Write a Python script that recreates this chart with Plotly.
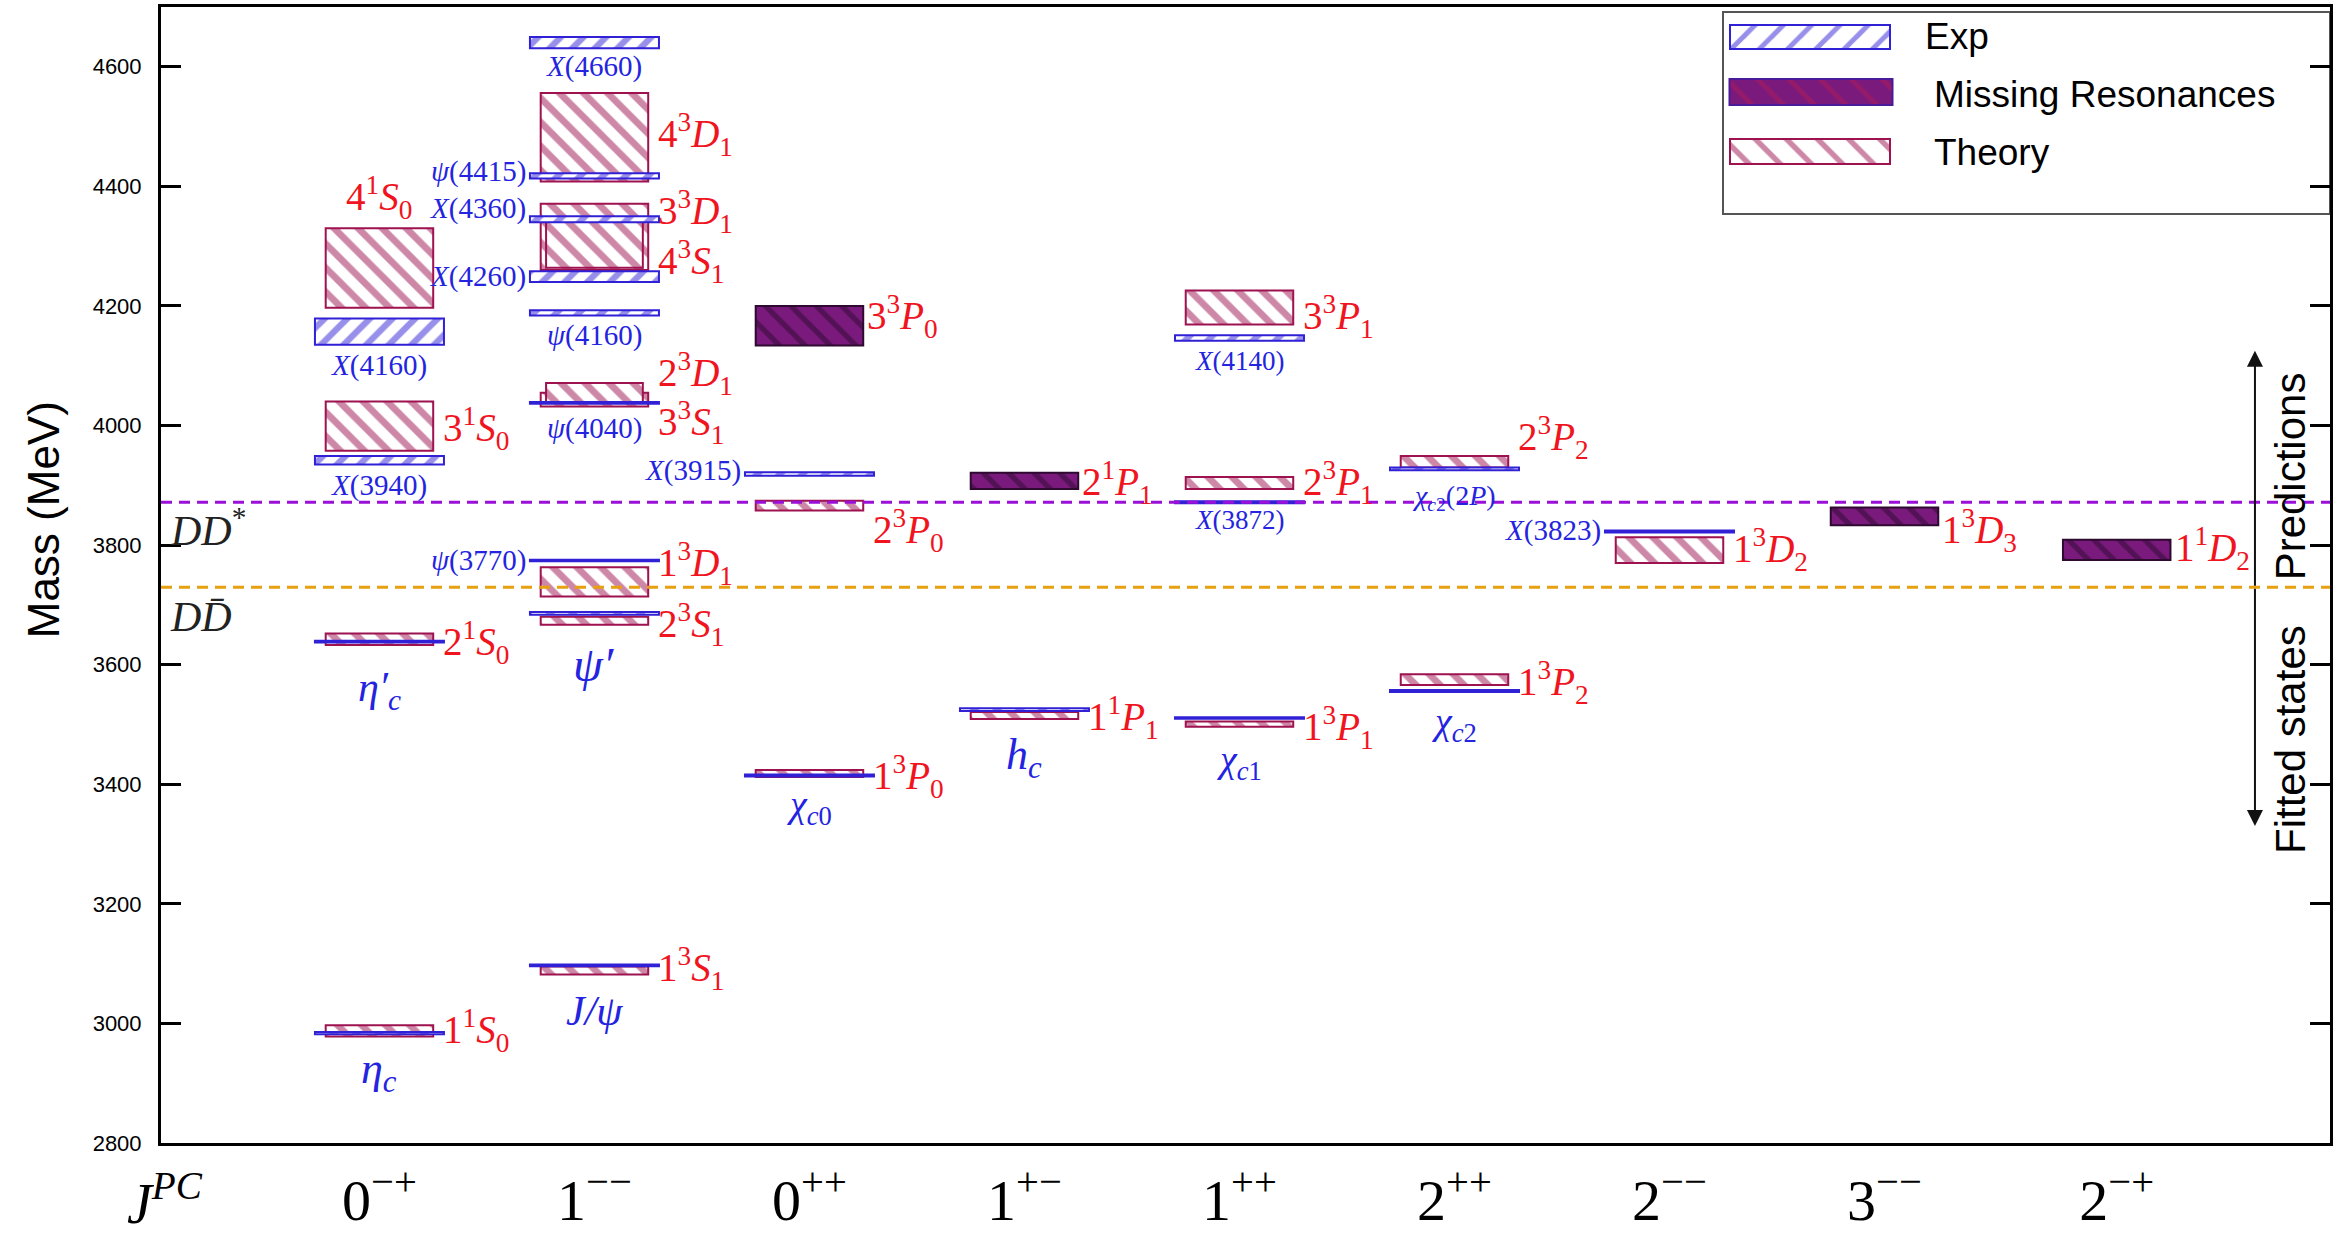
import plotly.graph_objects as go

# ---------------- data ----------------
CATEGORIES = ["0<sup>−+</sup>", "1<sup>−−</sup>", "0<sup>++</sup>", "1<sup>+−</sup>", "1<sup>++</sup>",
              "2<sup>++</sup>", "2<sup>−−</sup>", "3<sup>−−</sup>", "2<sup>−+</sup>"]
COLUMN_X = [1, 2, 3, 4, 5, 6, 7, 8, 9.08]

# theory (quark model) states: column index, lower / upper mass (MeV), spectroscopic code n,2S+1,L,J
THEORY_COL = [0, 0, 0, 0, 1, 1, 1, 1, 1, 1, 1, 1, 2, 2, 3, 4, 4, 4, 5, 5, 6]
THEORY_LOW = [2978, 3633, 3958, 4197, 3082, 3667, 3714, 4032, 4039, 4260, 4264, 4408,
              3412, 3858, 3509, 3496, 3894, 4169, 3566, 3930, 3770]
THEORY_HIGH = [2997, 3652, 4040, 4330, 3095, 3680, 3763, 4055, 4071, 4371, 4344, 4556,
               3424, 3874, 3521, 3505, 3914, 4226, 3584, 3949, 3813]
THEORY_STATE = ["11S0", "21S0", "31S0", "41S0", "13S1", "23S1", "13D1", "33S1", "23D1", "33D1", "43S1", "43D1",
                "13P0", "23P0", "11P1", "13P1", "23P1", "33P1", "13P2", "23P2", "13D2"]

# experimental states
EXP_COL = [0, 0, 0, 0, 1, 1, 1, 1, 1, 1, 1, 1, 1, 2, 2, 3, 4, 4, 4, 5, 5, 6]
EXP_LOW = [2982, 3637, 3935, 4135, 3095.5, 3683.5, 3773, 4036.5, 4184, 4240, 4340, 4413, 4631,
           3413, 3916, 3522.5, 3509.5, 3870, 4142, 3554.5, 3925, 3821]
EXP_HIGH = [2985.5, 3640, 3949, 4179, 3098.5, 3688, 3775.5, 4039.5, 4193, 4258, 4350, 4422, 4650,
            3416.5, 3922, 3527, 3512, 3873.5, 4151, 3557.5, 3930, 3824.5]
EXP_NAME = ["<i>η<sub>c</sub></i>", "<i>η′<sub>c</sub></i>", "<i>X</i>(3940)", "<i>X</i>(4160)",
            "<i>J/ψ</i>", "<i>ψ′</i>", "<i>ψ</i>(3770)", "<i>ψ</i>(4040)", "<i>ψ</i>(4160)",
            "<i>X</i>(4260)", "<i>X</i>(4360)", "<i>ψ</i>(4415)", "<i>X</i>(4660)",
            "<i>χ<sub>c</sub></i><sub>0</sub>", "<i>X</i>(3915)", "<i>h<sub>c</sub></i>",
            "<i>χ<sub>c</sub></i><sub>1</sub>", "<i>X</i>(3872)", "<i>X</i>(4140)",
            "<i>χ<sub>c</sub></i><sub>2</sub>", "<i>χ<sub>c</sub></i><sub>2</sub>(2<i>P</i>)", "<i>X</i>(3823)"]

# missing resonances (predicted, unobserved)
MISSING_COL = [2, 3, 7, 8]
MISSING_LOW = [4134, 3894, 3833, 3775]
MISSING_HIGH = [4200, 3921, 3863, 3809]
MISSING_STATE = ["33P0", "21P1", "13D3", "11D2"]

# open-charm thresholds
THRESHOLD_MASS = [3871.7, 3729.7]
THRESHOLD_NAME = ["<i>DD</i><sup>*</sup>", "<i>D</i><i>D̄</i>"]

Y_TICKS = [2800, 3000, 3200, 3400, 3600, 3800, 4000, 4200, 4400, 4600]

# ---------------- label placement (text layout only) ----------------
THEORY_LABEL_Y = [2987.5, 3637.5, 3995, 4382, 3092.5, 3667.5, 3770, 4005, 4087.5, 4357.5, 4275, 4487.5,
                  3412.5, 3825, 3512.5, 3495, 3905, 4182.5, 3570, 3980, 3792.5]
THEORY_LABEL_SIDE = ["r", "r", "r", "a", "r", "r", "r", "r", "r", "r", "r", "r",
                     "r", "r", "r", "r", "r", "r", "r", "r", "r"]
THEORY_NARROW = [0, 0, 0, 0, 0, 0, 0, 0, 1, 0, 1, 0, 0, 0, 0, 0, 0, 0, 0, 0, 0]
EXP_LABEL_Y = [2920, 3557.5, 3900, 4100, 3020, 3600, 3775, 3995, 4150, 4250, 4362.5, 4425, 4600,
               3362.5, 3925, 3445, 3437.5, 3842.5, 4107.5, 3500, 3880, 3825]
EXP_LABEL_SIDE = ["b", "b", "b", "b", "b", "b", "l", "b", "b", "l", "l", "l", "b",
                  "b", "l", "b", "b", "b", "b", "b", "b", "l"]
EXP_LABEL_SIZE = [44, 42, 29, 29, 42, 48, 29, 29, 29, 29, 29, 29, 29,
                  38, 29, 44, 38, 27, 27, 38, 28, 29]
MISSING_LABEL_Y = [4182.5, 3905, 3825, 3795]

# ---------------- style ----------------
TH_W, TH_NARROW_W, EXP_W, MISS_W = 0.5, 0.45, 0.6, 0.5
TH_COLOR = "#9E1250"
EXP_COLOR = "#3020D6"
MISS_FILL = "#7A1A7C"
MISS_HATCH = "#2E0A30"
RED_TEXT = "#F0141E"
BLUE_TEXT = "#2424E0"
SERIF = "Liberation Serif, DejaVu Serif, serif"
SANS = "Liberation Sans, Arial, sans-serif"
NARROW = "Liberation Sans Narrow, Liberation Sans, Arial, sans-serif"
RED_SIZE = 39


def term(code):
    return f"{code[0]}<sup>{code[1]}</sup><i>{code[2]}</i><sub>{code[3]}</sub>"


def boxes(cols, lows, highs, widths, line_color, line_width, fg, bg, shape, size, solidity,
          xaxis="x", yaxis="y", xs=None):
    if xs is None:
        xs = [COLUMN_X[c] for c in cols]
    return go.Bar(
        x=xs, base=lows, y=[h - l for l, h in zip(lows, highs)], width=widths,
        marker=dict(color=bg, line=dict(color=line_color, width=line_width),
                    pattern=dict(shape=shape, fgcolor=fg, bgcolor=bg, size=size,
                                 solidity=solidity, fillmode="overlay")),
        textposition="none", showlegend=False, hoverinfo="skip", xaxis=xaxis, yaxis=yaxis)


fig = go.Figure()

th_widths = [TH_NARROW_W if n else TH_W for n in THEORY_NARROW]
fig.add_trace(boxes(THEORY_COL, THEORY_LOW, THEORY_HIGH, th_widths, TH_COLOR, 2,
                    TH_COLOR, "white", "\\", 17, 0.4))
fig.add_trace(boxes(EXP_COL, EXP_LOW, EXP_HIGH, [EXP_W] * len(EXP_COL), EXP_COLOR, 2,
                    EXP_COLOR, "white", "/", 16, 0.4))
fig.add_trace(boxes(MISSING_COL, MISSING_LOW, MISSING_HIGH, [MISS_W] * len(MISSING_COL),
                    MISS_HATCH, 2, MISS_HATCH, MISS_FILL, "\\", 18, 0.3))

ann = []
# theory labels
for c, st, ly, side in zip(THEORY_COL, THEORY_STATE, THEORY_LABEL_Y, THEORY_LABEL_SIDE):
    if side == "a":
        ann.append(dict(x=COLUMN_X[c], y=ly, text=term(st), xanchor="center", yanchor="middle",
                        showarrow=False, font=dict(family=SERIF, size=RED_SIZE, color=RED_TEXT)))
    else:
        ann.append(dict(x=COLUMN_X[c] + TH_W / 2 + 0.035, y=ly, text=term(st), xanchor="left",
                        yanchor="middle", showarrow=False,
                        font=dict(family=SERIF, size=RED_SIZE, color=RED_TEXT)))
for c, st, ly in zip(MISSING_COL, MISSING_STATE, MISSING_LABEL_Y):
    ann.append(dict(x=COLUMN_X[c] + MISS_W / 2 + 0.01, y=ly, text=term(st), xanchor="left",
                    yanchor="middle", showarrow=False, font=dict(family=SERIF, size=RED_SIZE, color=RED_TEXT)))
# experimental labels
for c, nm, ly, side, sz in zip(EXP_COL, EXP_NAME, EXP_LABEL_Y, EXP_LABEL_SIDE, EXP_LABEL_SIZE):
    if side == "l":
        ann.append(dict(x=COLUMN_X[c] - EXP_W / 2 - 0.01, y=ly, text=nm, xanchor="right",
                        yanchor="middle", showarrow=False, font=dict(family=SERIF, size=sz, color=BLUE_TEXT)))
    else:
        ann.append(dict(x=COLUMN_X[c], y=ly, text=nm, xanchor="center", yanchor="middle",
                        showarrow=False, font=dict(family=SERIF, size=sz, color=BLUE_TEXT)))

# thresholds
TH_LINE_COLORS = ["#9B10D8", "#E6A010"]
TH_LABEL_OFFSET = [-42, -50]
shapes = []
for m, nm, col, off in zip(THRESHOLD_MASS, THRESHOLD_NAME, TH_LINE_COLORS, TH_LABEL_OFFSET):
    shapes.append(dict(type="line", xref="paper", x0=0, x1=1, yref="y", y0=m, y1=m,
                       line=dict(color=col, width=3, dash="11px,7px"), layer="above"))
    ann.append(dict(x=0.003, xref="paper", y=m + off, text=nm, xanchor="left", yanchor="middle",
                    showarrow=False, font=dict(family=SERIF, size=42, color="#222222")))

# region arrows and texts on the right
XA = 9.723
ann.append(dict(x=XA, y=4125, ax=XA, ay=THRESHOLD_MASS[1], axref="x", ayref="y", text="",
                showarrow=True, arrowhead=2, arrowsize=1.6, arrowwidth=2, arrowcolor="#111111"))
ann.append(dict(x=XA, y=3330, ax=XA, ay=THRESHOLD_MASS[1], axref="x", ayref="y", text="",
                showarrow=True, arrowhead=2, arrowsize=1.6, arrowwidth=2, arrowcolor="#111111"))
ann.append(dict(x=9.886, y=3915, text="Predictions", textangle=-90, showarrow=False,
                xanchor="center", yanchor="middle", font=dict(family=SANS, size=42, color="black")))
ann.append(dict(x=9.886, y=3474, text="Fitted states", textangle=-90, showarrow=False,
                xanchor="center", yanchor="middle", font=dict(family=SANS, size=42, color="black")))

# axis title and J^PC
ann.append(dict(x=-0.054, xref="paper", y=3843, text="Mass (MeV)", textangle=-90, showarrow=False,
                xanchor="center", yanchor="middle", font=dict(family=NARROW, size=44, color="black")))
ann.append(dict(x=0.002, xref="paper", y=-0.05, yref="paper", text="<i>J</i><sup><i>PC</i></sup>",
                showarrow=False, xanchor="center", yanchor="middle",
                font=dict(family=SERIF, size=56, color="black")))

# ---------------- legend (drawn on a pixel-space overlay axis) ----------------
LEG_X0, LEG_X1, LEG_Y0, LEG_Y1 = 1723, 2330, 12, 214
SW_CX, SW_W = 1810, 160
SW_TOP = [25, 79, 139]
SW_H = [24, 26, 25]
fig.add_trace(boxes(None, [SW_TOP[0]], [SW_TOP[0] + SW_H[0]], [SW_W], EXP_COLOR, 2, EXP_COLOR, "white",
                    "/", 20, 0.25, "x2", "y2", xs=[SW_CX]))
fig.add_trace(boxes(None, [SW_TOP[1]], [SW_TOP[1] + SW_H[1]], [SW_W + 3], "#4a1a9a", 2, "#B01C58", MISS_FILL,
                    "\\", 22, 0.22, "x2", "y2", xs=[SW_CX + 1]))
fig.add_trace(boxes(None, [SW_TOP[2]], [SW_TOP[2] + SW_H[2]], [SW_W], TH_COLOR, 2, TH_COLOR, "white",
                    "\\", 22, 0.25, "x2", "y2", xs=[SW_CX]))
shapes.append(dict(type="rect", xref="x2", yref="y2", x0=LEG_X0, x1=LEG_X1, y0=LEG_Y0, y1=LEG_Y1,
                   line=dict(color="#555555", width=2), fillcolor="white", layer="below"))
for txt, xx, yy in [("Exp", 1923, 36), ("Missing Resonances", 1932, 94), ("Theory", 1932, 152)]:
    ann.append(dict(x=xx, y=yy, xref="x2", yref="y2", text=txt, xanchor="left", yanchor="middle",
                    showarrow=False, font=dict(family=SANS, size=37, color="black")))

fig.update_layout(
    width=2343, height=1242,
    margin=dict(l=161, r=13, t=7, b=99, autoexpand=False),
    paper_bgcolor="white", plot_bgcolor="white",
    barmode="overlay", showlegend=False,
    annotations=ann, shapes=shapes,
    xaxis=dict(range=[-0.016, 10.072], showgrid=False, zeroline=False, showline=True, linewidth=3,
               linecolor="black", mirror=True, ticks="", tickvals=COLUMN_X, ticktext=CATEGORIES,
               tickfont=dict(family=SERIF, size=58, color="black"), ticklabelstandoff=4,
               automargin=False),
    yaxis=dict(range=[2800, 4700], showgrid=False, zeroline=False, showline=True, linewidth=3,
               linecolor="black", mirror="ticks", ticks="inside", ticklen=20, tickwidth=3,
               tickcolor="black", tickvals=Y_TICKS, tickfont=dict(family=SANS, size=22, color="black"),
               ticklabelstandoff=12, automargin=False),
    xaxis2=dict(range=[161, 2330], overlaying="x", anchor="y2", visible=False, fixedrange=True),
    yaxis2=dict(range=[1143, 7], overlaying="y", anchor="x2", visible=False, fixedrange=True),
)

fig.write_html("out.html")
